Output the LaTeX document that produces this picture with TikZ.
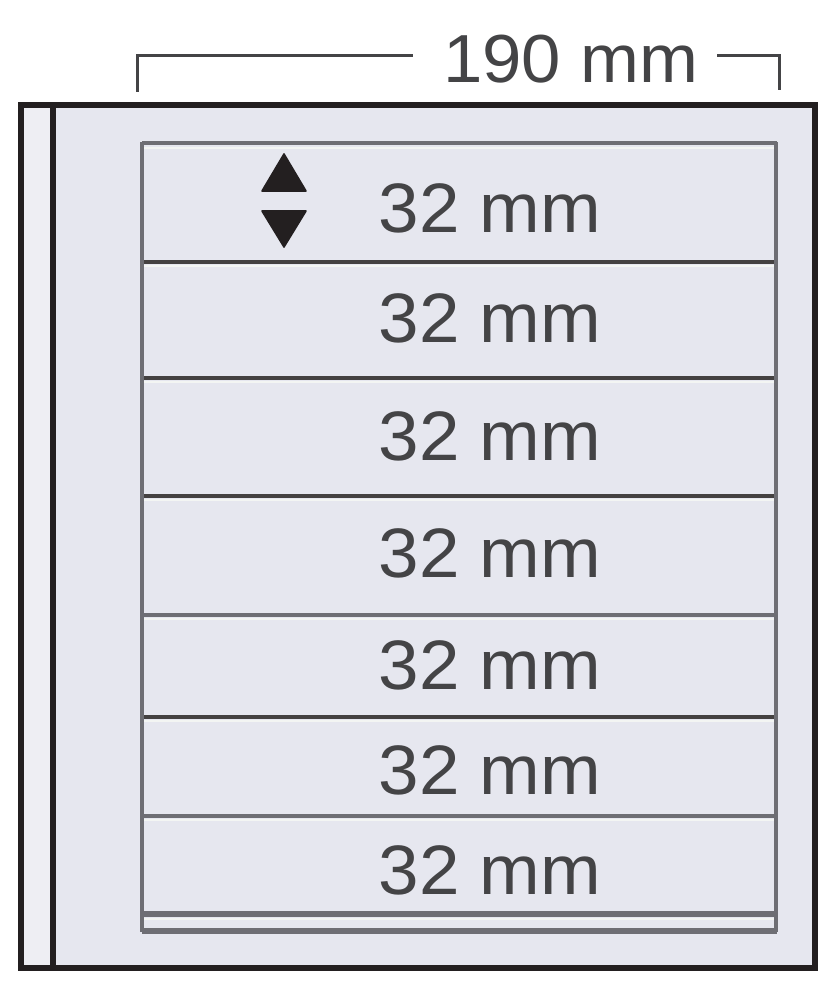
\documentclass[tikz,border=0pt]{standalone}
\usepackage{fontspec}
\setmainfont{Liberation Sans}
\definecolor{sheetfill}{HTML}{E6E7EF}
\definecolor{stripfill}{HTML}{EEEEF3}
\definecolor{darkline}{HTML}{231F20}
\definecolor{grayline}{HTML}{6E6E74}
\definecolor{txtcol}{HTML}{444446}
\definecolor{hilite}{HTML}{F3F5F3}
\begin{document}
\begin{tikzpicture}[x=0.5pt,y=-0.5pt,
  outerline/.style={draw=darkline,line width=2.8pt},
  sideline/.style={draw=grayline,line width=2.2pt},
  darkdiv/.style={draw=darkline!85,line width=2.2pt},
  graydiv/.style={draw=grayline,line width=2.2pt},
  hiline/.style={draw=hilite,line width=1pt},
  sizelabel/.style={inner sep=0pt,text=txtcol,xscale=1.04,font=\fontsize{35}{40}\selectfont},
  widthlabel/.style={inner sep=0pt,text=txtcol,xscale=1.04,font=\fontsize{34}{40}\selectfont},
  bracket/.style={draw=txtcol,line width=1.5pt},
  tri/.style={fill=darkline,draw=darkline,line width=0.8pt,line join=round}]
\useasboundingbox (0,0) rectangle (829,1000);
% sheet
\fill[sheetfill] (21,105) rectangle (815,968);
\fill[stripfill] (21,105) rectangle (53,968);
\draw[outerline] (21,105) rectangle (815,968);
\draw[outerline] (53,105) -- (53,968);
% pocket area
\draw[hiline] (144,148) -- (775,148);
\foreach \y in {262,378,496,615,717,816,915} {\draw[hiline] (144,\y+4) -- (775,\y+4);}
\draw[graydiv] (142,143) -- (777,143);
\draw[darkdiv] (142,262) -- (777,262);
\draw[darkdiv] (142,378) -- (777,378);
\draw[darkdiv] (142,496) -- (777,496);
\draw[graydiv] (142,615) -- (777,615);
\draw[darkdiv] (142,717) -- (777,717);
\draw[graydiv] (142,816) -- (777,816);
\draw[graydiv,line width=2.6pt] (142,914) -- (777,914);
\draw[graydiv,line width=2.6pt] (142,931) -- (777,931);
\draw[sideline] (142,142) -- (142,932);
\draw[sideline] (776,142) -- (776,932);
% arrows
\filldraw[tri] (262,191) -- (306,191) -- (284,154) -- cycle;
\filldraw[tri] (262,211) -- (306,211) -- (284,247) -- cycle;
% labels
\node[sizelabel] (r1) at (490,208) {32 mm};
\node[sizelabel] (r2) at (490,318) {32 mm};
\node[sizelabel] (r3) at (490,436) {32 mm};
\node[sizelabel] (r4) at (490,553) {32 mm};
\node[sizelabel] (r5) at (490,665) {32 mm};
\node[sizelabel] (r6) at (490,770) {32 mm};
\node[sizelabel] (r7) at (490,870) {32 mm};
% width dimension
\node[widthlabel] (w) at (571,59) {190 mm};
\coordinate (bl) at (137,92);
\coordinate (blh) at (413,56);
\coordinate (brh) at (717,56);
\coordinate (br) at (779,90);
\draw[bracket] (bl) |- (blh);
\draw[bracket] (brh) -| (br);
\end{tikzpicture}
\end{document}
